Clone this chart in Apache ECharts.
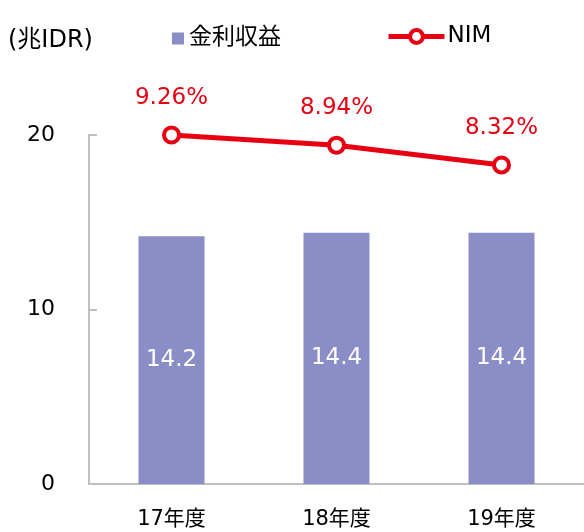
<!DOCTYPE html>
<html>
<head>
<meta charset="utf-8">
<script src="https://cdn.jsdelivr.net/npm/echarts@6/dist/echarts.min.js"></script>
<style>
  html, body { margin: 0; padding: 0; background: #fff; }
  #chart { width: 584px; height: 532px; }
</style>
</head>
<body>
<div id="chart"></div>
<script>
// Fiscal years, interest income (trillion IDR) and net interest margin (%)
const categories = ['17年度', '18年度', '19年度'];
const interestIncome = [14.2, 14.4, 14.4];
const nim = [9.26, 8.94, 8.32];
const leftTicks = [0, 10, 20];

const FONT = '"DejaVu Sans", "Noto Sans CJK JP", sans-serif';
const BAR_COLOR = '#8b8ec6';
const RED = '#e60012';
const AXIS_GRAY = '#bfbfbf';

const chart = echarts.init(document.getElementById('chart'), null, { renderer: 'canvas' });

chart.setOption({
  animation: false,
  backgroundColor: '#fff',
  textStyle: { fontFamily: FONT },
  title: {
    text: '(兆IDR)',
    left: 8,
    top: 29,
    padding: 0,
    textStyle: { fontFamily: FONT, fontSize: 24, fontWeight: 'normal', color: '#000' }
  },
  legend: [
    {
      data: [{ name: '金利収益', icon: 'rect' }],
      left: 172,
      top: 27,
      padding: 0,
      itemWidth: 12,
      itemHeight: 12,
      itemGap: 4,
      textStyle: { fontFamily: FONT, fontSize: 23, color: '#000' }
    },
    {
      data: [{
        name: 'NIM',
        lineStyle: { width: 5, color: RED },
        itemStyle: { color: '#fff', borderColor: RED, borderWidth: 4 }
      }],
      left: 386,
      top: 25,
      padding: 0,
      itemWidth: 56,
      itemHeight: 16,
      itemGap: 4,
      textStyle: { fontFamily: FONT, fontSize: 23, color: '#000', padding: [0, 0, 0, -2] }
    }
  ],
  grid: { left: 89, top: 135, right: -3, bottom: 48, containLabel: false },
  xAxis: {
    type: 'category',
    data: categories,
    axisLine: { show: true, lineStyle: { color: AXIS_GRAY, width: 2 } },
    axisTick: { show: false },
    axisLabel: { fontFamily: FONT, fontSize: 21, color: '#000', margin: 25 }
  },
  yAxis: [
    {
      type: 'value',
      min: leftTicks[0],
      max: leftTicks[leftTicks.length - 1],
      interval: 10,
      splitLine: { show: false },
      axisLine: { show: true, lineStyle: { color: AXIS_GRAY, width: 2 } },
      axisTick: { show: true, inside: true, length: 8, lineStyle: { color: AXIS_GRAY, width: 2 } },
      axisLabel: { fontFamily: FONT, fontSize: 22, color: '#000', margin: 34 }
    },
    {
      type: 'value',
      show: false,
      min: -1.7,
      max: nim[0],
      splitLine: { show: false }
    }
  ],
  series: [
    {
      name: '金利収益',
      type: 'bar',
      data: interestIncome,
      yAxisIndex: 0,
      barWidth: 66,
      itemStyle: { color: BAR_COLOR },
      label: {
        show: true,
        position: 'inside',
        color: '#fff',
        fontFamily: FONT,
        fontSize: 23,
        formatter: p => p.value.toFixed(1)
      }
    },
    {
      name: 'NIM',
      type: 'line',
      data: nim,
      yAxisIndex: 1,
      symbol: 'circle',
      symbolSize: 15,
      lineStyle: { color: RED, width: 5 },
      itemStyle: { color: '#fff', borderColor: RED, borderWidth: 4 },
      label: {
        show: true,
        position: 'top',
        distance: 16,
        color: RED,
        fontFamily: FONT,
        fontSize: 23,
        formatter: p => p.value.toFixed(2) + '%'
      },
      z: 5
    }
  ]
});
</script>
</body>
</html>
